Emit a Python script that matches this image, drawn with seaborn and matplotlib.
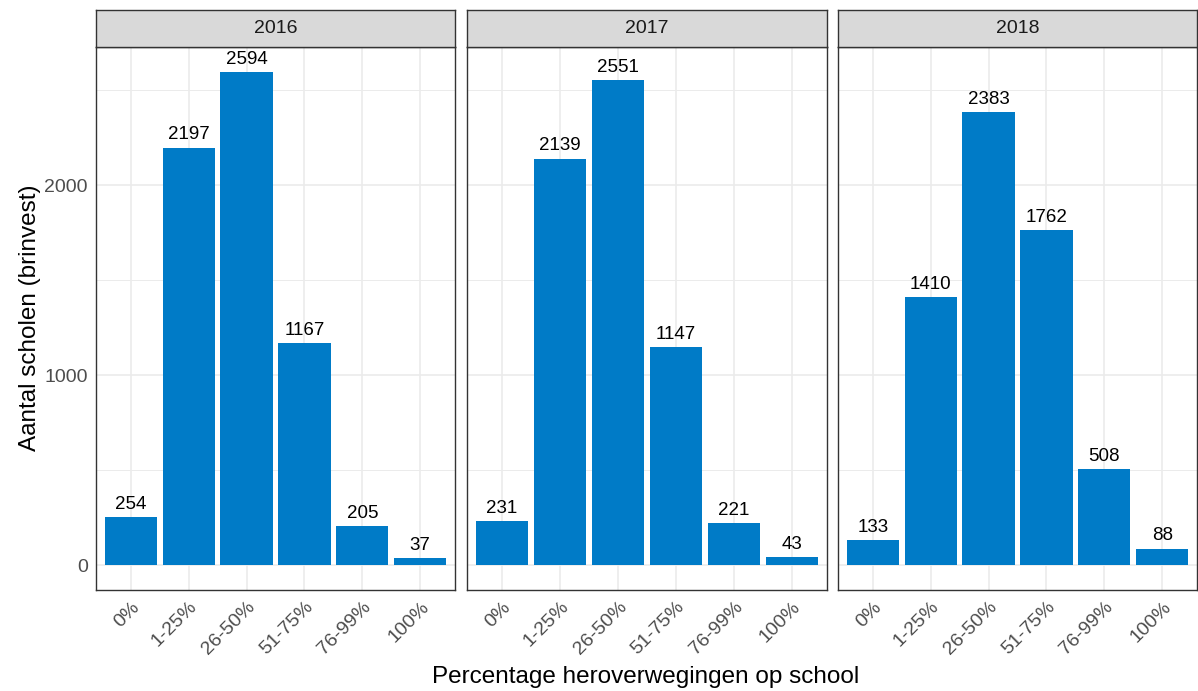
import numpy as np
import pandas as pd
import matplotlib
matplotlib.use('Agg')
import matplotlib.pyplot as plt
import seaborn as sns

# Data
years = ['2016', '2017', '2018']
categories = ['0%', '1-25%', '26-50%', '51-75%', '76-99%', '100%']
counts_2016 = [254, 2197, 2594, 1167, 205, 37]
counts_2017 = [231, 2139, 2551, 1147, 221, 43]
counts_2018 = [133, 1410, 2383, 1762, 508, 88]

data = pd.DataFrame({
    'jaar': np.repeat(years, len(categories)),
    'categorie': categories * 3,
    'aantal': counts_2016 + counts_2017 + counts_2018,
})

sns.set_style('white')
plt.rcParams['font.family'] = ['Liberation Sans', 'DejaVu Sans']

bar_color = '#007BC7'
border = '#333333'
grid_col = '#EBEBEB'

W, H = 1198, 691
fig = plt.figure(figsize=(W / 100, H / 100), dpi=100)

# panel positions in pixels (left, right)
panels = [(96, 455), (467, 827), (838, 1197)]
top, bottom, strip_top = 47, 590, 10

for i, (yr, (x0, x1)) in enumerate(zip(years, panels)):
    ax = fig.add_axes([x0 / W, 1 - bottom / H, (x1 - x0) / W, (bottom - top) / H])
    sub = data[data['jaar'] == yr]
    sns.barplot(data=sub, x='categorie', y='aantal', order=categories,
                color=bar_color, saturation=1, width=0.9, ax=ax, zorder=3)
    for p in ax.patches:
        p.set_edgecolor('none')
    for xi, v in enumerate(sub['aantal']):
        ax.text(xi, v + 22, str(v), ha='center', va='bottom', fontsize=13.5, color='black', zorder=4)

    ax.set_xlim(-0.6, 5.6)
    ax.set_ylim(-130, 2726)
    ax.set_yticks([0, 1000, 2000])
    ax.set_yticks([500, 1500, 2500], minor=True)
    ax.grid(True, which='major', color=grid_col, lw=1.2, zorder=0)
    ax.grid(True, which='minor', axis='y', color=grid_col, lw=0.7, zorder=0)
    ax.set_axisbelow(True)
    for s in ax.spines.values():
        s.set_color(border)
        s.set_linewidth(1.0)
    ax.tick_params(axis='both', which='major', length=4, width=1.0, color=border,
                   labelsize=14, labelcolor='#4D4D4D', pad=2)
    ax.tick_params(axis='y', which='minor', length=0)
    ax.set_xticks(range(len(categories)))
    ax.set_xticklabels(categories, rotation=45, ha='right', va='top', rotation_mode='anchor')
    ax.set_xlabel('')
    ax.set_ylabel('')
    if i > 0:
        ax.tick_params(axis='y', which='major', length=0, labelleft=False)

    # facet strip
    sax = fig.add_axes([x0 / W, 1 - top / H, (x1 - x0) / W, (top - strip_top) / H])
    sax.set_facecolor('#D9D9D9')
    sax.set_xticks([])
    sax.set_yticks([])
    for s in sax.spines.values():
        s.set_color(border)
        s.set_linewidth(1.0)
    sax.text(0.5, 0.5, yr, ha='center', va='center', fontsize=14, color='#1A1A1A',
             transform=sax.transAxes)

fig.text(30 / W, 1 - 318 / H, 'Aantal scholen (brinvest)', rotation=90,
         ha='center', va='center', fontsize=17.5, color='black')
fig.text(646 / W, 1 - 677 / H, 'Percentage heroverwegingen op school',
         ha='center', va='center', fontsize=17.5, color='black')

fig.savefig('out.png', dpi=100, facecolor='white')
